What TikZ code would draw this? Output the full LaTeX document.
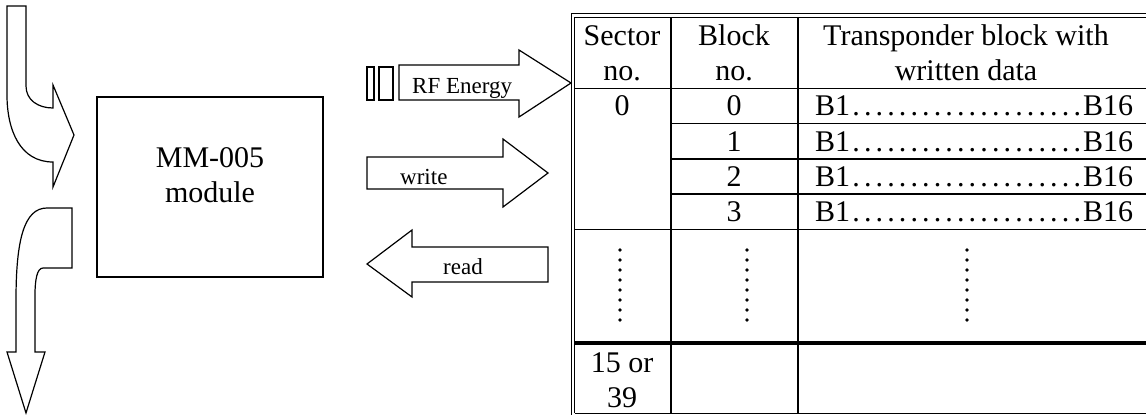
\documentclass[tikz,border=0pt]{standalone}
\usepackage{fontspec}
\setmainfont{Liberation Serif}

\begin{document}
\begin{tikzpicture}[x=1pt,y=-1pt]
		\tikzset{big arrow/.style={draw,line width=1.2pt,line join=miter,fill=white},
			cell/.style={anchor=base,inner sep=0pt,font=\fontsize{30}{34}\selectfont},
			arrow label/.style={anchor=base west,inner sep=0pt,font=\fontsize{23}{26}\selectfont},
			rule/.style={line width=1pt},
			heavy rule/.style={line width=1.8pt},
			dotrow/.style={anchor=base west,inner sep=0pt,font=\fontsize{30}{34}\selectfont}}
		\useasboundingbox (0,0) rectangle (1146,415);

		% curved arrows on the left
		\draw[big arrow] (7,6) -- (26,6) -- (26,86) .. controls (26,100) and (38,108) .. (53,108)
			-- (53,85) -- (74,135) -- (53,187) -- (53,162) .. controls (20,162) and (7,130) .. (7,95) -- cycle;
		\draw[big arrow] (47,208) -- (72,208) -- (72,268) -- (43,268) .. controls (37,268) and (35,280) .. (35,295)
			-- (35,352) -- (45,352) -- (26,413) -- (7,352) -- (16,352) -- (16,300) .. controls (16,240) and (24,208) .. (47,208) -- cycle;

		% module
		\node [draw,line width=1.2pt,minimum width=226pt,minimum height=180pt] (mm) at (210,187) {};
		\node [cell] (mmname) at (210,167) {MM-005};
		\node [cell] (mmsub) at (210,202) {module};

		% RF energy, write, read
		\draw[big arrow] (367,67) rectangle (374,100);
		\draw[big arrow] (379,67) rectangle (393,100);
		\draw[big arrow] (399,65) -- (519,65) -- (519,50) -- (571,83) -- (519,117) -- (519,100) -- (399,100) -- cycle;
		\begin{scope}
			\clip (400,66) rectangle (518,99);
			\node [arrow label] (rf) at (412,93) {RF Energy};
		\end{scope}
		\draw[big arrow] (367,157) -- (503,157) -- (503,139) -- (548,173) -- (503,207) -- (503,189) -- (367,189) -- cycle;
		\node [arrow label] (wr) at (400,184) {write};
		\draw[big arrow] (548,247) -- (412,247) -- (412,230) -- (367,264) -- (412,297) -- (412,282) -- (548,282) -- cycle;
		\node [arrow label] (rd) at (443,274) {read};

		% table frame
		\draw[rule] (571,420) -- (571,13.5) -- (1150,13.5);
		\draw[rule] (574.5,413) -- (574.5,17.5) -- (1150,17.5);
		\draw[rule] (574.5,413) -- (1150,413);
		\draw[heavy rule] (671,17.5) -- (671,413);
		\draw[heavy rule] (798,17.5) -- (798,413);
		\draw[rule] (574.5,88) -- (1150,88);
		\draw[rule] (671,123) -- (1150,123);
		\draw[heavy rule] (671,159) -- (1150,159);
		\draw[heavy rule] (671,194) -- (1150,194);
		\draw[heavy rule] (574.5,229.5) -- (1150,229.5);
		\draw[line width=3.5pt] (574.5,343) -- (1150,343);

		% header
		\node [cell] (sec1) at (622,45) {Sector};
		\node [cell] (sec2) at (622,80) {no.};
		\node [cell] (blk1) at (734,45) {Block};
		\node [cell] (blk2) at (734,80) {no.};
		\node [cell] (tr1) at (966,45) {Transponder block with};
		\node [cell] (tr2) at (966,80) {written data};

		% rows
		\node [cell] (s0) at (622,115) {0};
		\node [cell] (b0) at (734,115) {0};
		\node [cell] (b1) at (734,151) {1};
		\node [cell] (b2) at (734,186) {2};
		\node [cell] (b3) at (734,221) {3};
		\node [dotrow] (d0) at (815,115) {\hbox to 318pt{B1\xleaders\hbox to 0.38em{\hss.\hss}\hfill B16}};
		\node [dotrow] (d1) at (815,151) {\hbox to 318pt{B1\xleaders\hbox to 0.38em{\hss.\hss}\hfill B16}};
		\node [dotrow] (d2) at (815,186) {\hbox to 318pt{B1\xleaders\hbox to 0.38em{\hss.\hss}\hfill B16}};
		\node [dotrow] (d3) at (815,221) {\hbox to 318pt{B1\xleaders\hbox to 0.38em{\hss.\hss}\hfill B16}};
		\node [cell] (slast1) at (622,372) {15 or};
		\node [cell] (slast2) at (622,407) {39};

		% vertical dots
		\foreach \x in {620,747,967}
			\foreach \y in {250,260,...,320}
				\fill (\x,\y) circle (1.8pt);
	\end{tikzpicture}
\end{document}
